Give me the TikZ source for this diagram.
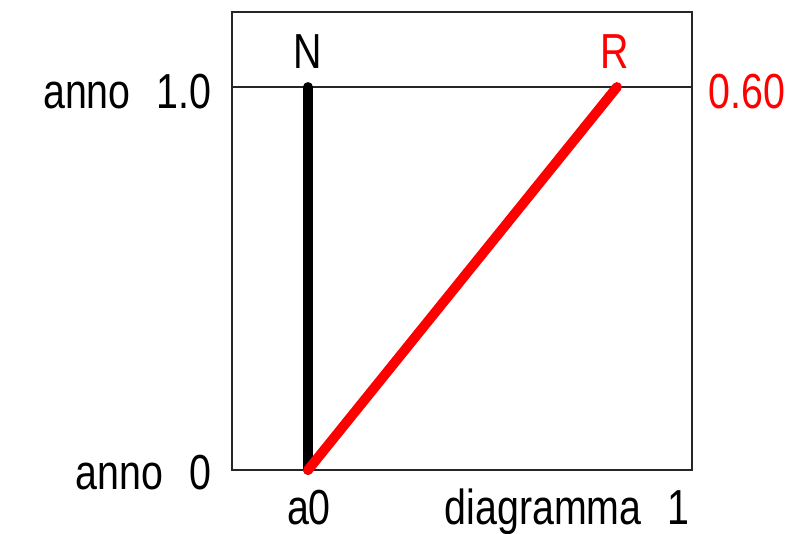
\documentclass[tikz,border=0pt]{standalone}
\usepackage{fontspec}
\newfontfamily\cadfont[FakeStretch=0.8,WordSpace=2.4]{Liberation Sans}
\usetikzlibrary{positioning}

\begin{document}
\begin{tikzpicture}[x=0.02cm, y=-0.02cm, font=\cadfont\fontsize{28}{28}\selectfont,
    frame/.style={line width=1pt, black!85},
    bar/.style={line width=5.6pt, line cap=round},
    lbl/.style={inner sep=0pt}]
    \useasboundingbox (0,0) rectangle (805,534);

    % Frame and the 1.0 line
    \coordinate (tl) at (232,12);
    \coordinate (br) at (692,470);
    \draw[frame] (tl) rectangle (br);
    \coordinate (l1) at (232,87);
    \coordinate (r1) at (692,87);
    \draw[frame, line width=0.8pt] (l1) -- (r1);

    % Bars
    \coordinate (a0) at (308,470);
    \coordinate (N) at (308,87);
    \coordinate (R) at (617,87);
    \draw[bar] (a0) -- (N);
    \draw[bar, red] (a0) -- (R);

    % Labels
    \node[lbl, anchor=base] (labN) at (308,69) {N};
    \node[lbl, anchor=base, red] (labR) at (615,69) {R};
    \node[lbl, anchor=base east] (top) at (212,108) {anno 1.0};
    \node[lbl, anchor=base east] (bot) at (212,489) {anno 0};
    \node[lbl, anchor=base west, red] (val) at (708,108) {0.60};
    \node[lbl, anchor=base] (laba) at (309,524) {a0};
    \node[lbl, anchor=base east] (diag) at (690,524) {diagramma 1};

\end{tikzpicture}
\end{document}
